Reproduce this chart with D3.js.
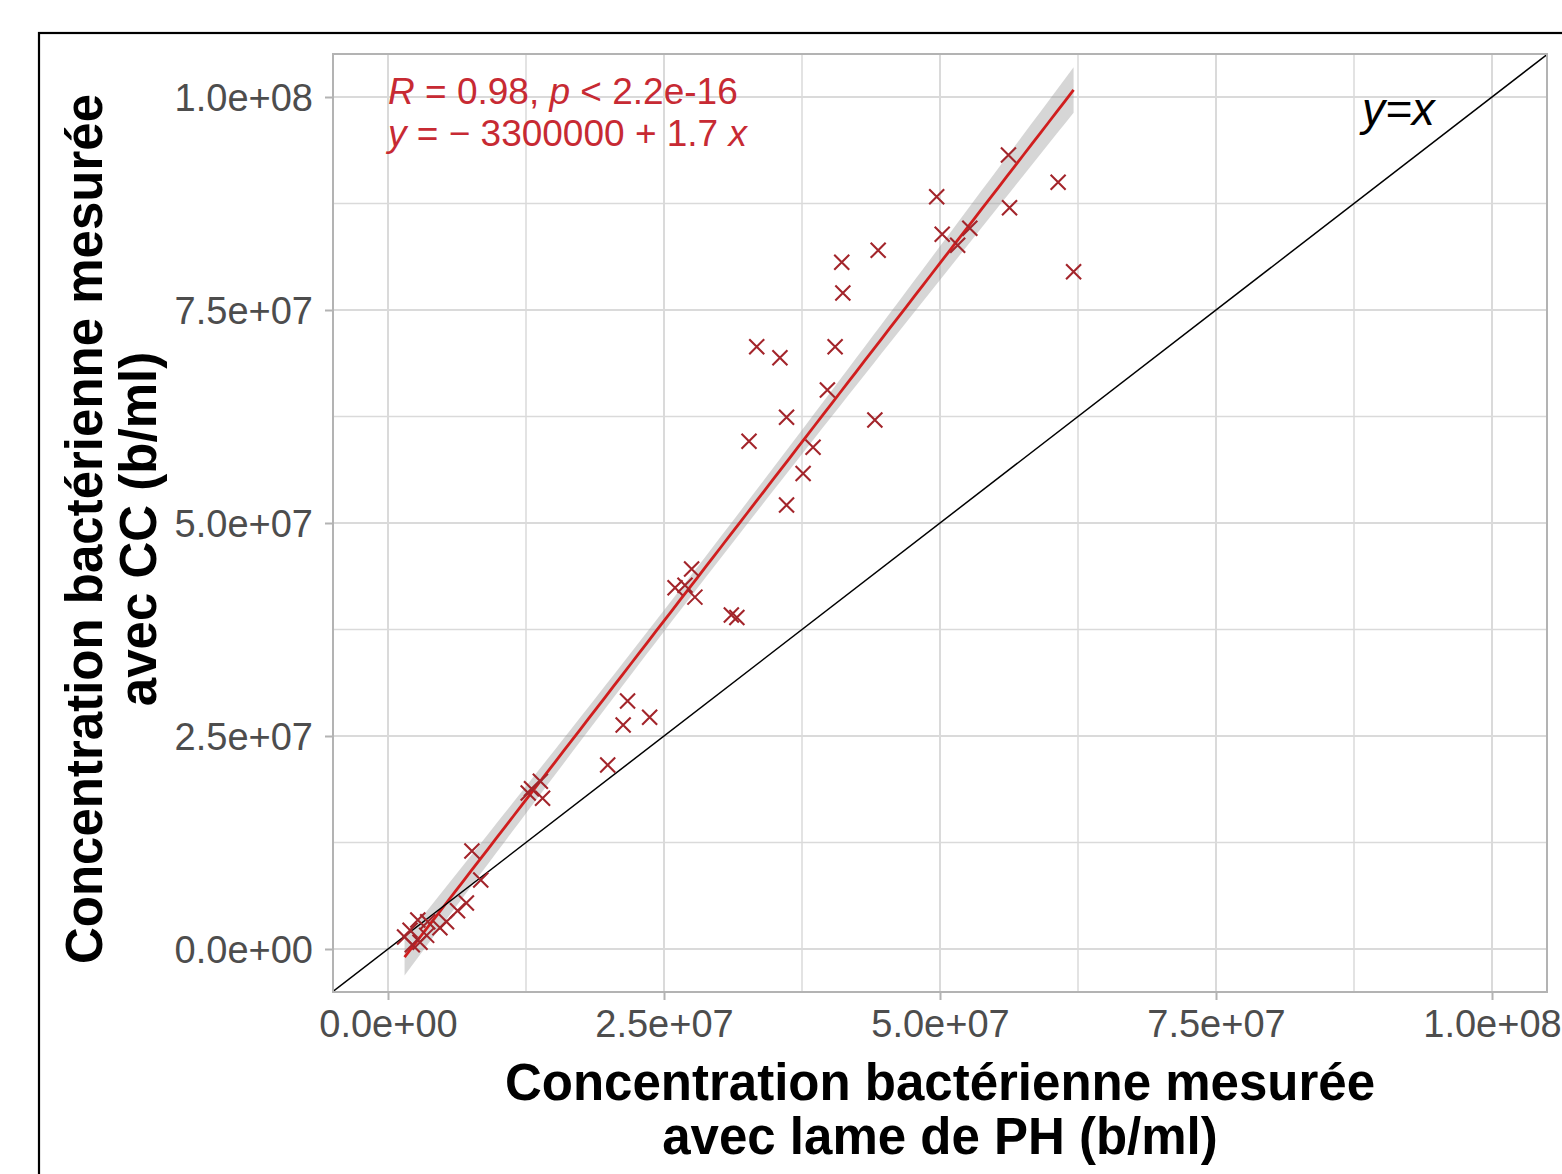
<!DOCTYPE html>
<html>
<head>
<meta charset="utf-8">
<script src="https://cdn.jsdelivr.net/npm/d3@7/dist/d3.min.js"></script>
<style>
  html, body { margin: 0; padding: 0; background: #ffffff; }
  svg { display: block; font-family: "Liberation Sans", Arial, sans-serif; }
</style>
</head>
<body>
<svg id="chart" width="1562" height="1174"></svg>
<script>
// ---- data (values in bacteria / ml, given in millions) ----
const phMillions = [56.2, 60.7, 49.7, 56.3, 50.2, 52.7, 51.6, 44.4, 41.1, 41.2, 62.1,
  33.4, 35.5, 40.5, 39.8, 36.1, 44.1, 32.7, 38.5, 37.6, 36.1,
  27.5, 26.0, 26.9, 27.8, 31.1, 31.6,
  21.7, 21.3, 23.7, 19.9,
  13.0, 13.8, 14.0, 12.7,
  7.6, 8.4, 7.1, 6.3, 5.3, 4.7, 3.6, 2.7, 2.0, 1.5, 2.2, 2.9, 3.5];
const ccMillions = [93.2, 90.0, 88.3, 87.0, 83.9, 84.6, 82.6, 82.0, 80.6, 77.0, 79.5,
  70.7, 69.4, 70.7, 65.6, 62.4, 62.1, 59.6, 58.9, 55.8, 52.1,
  44.6, 42.4, 42.7, 41.3, 39.2, 38.9,
  29.1, 26.3, 27.2, 21.6,
  18.8, 19.7, 17.7, 18.3,
  11.5, 8.1, 5.4, 4.5, 3.2, 2.5, 3.2, 3.4, 2.2, 1.4, 0.5, 0.8, 1.6];
const tickValues = [0, 2.5e7, 5e7, 7.5e7, 1e8];
const tickLabels = ["0.0e+00", "2.5e+07", "5.0e+07", "7.5e+07", "1.0e+08"];
const minorTicks = [1.25e7, 3.75e7, 6.25e7, 8.75e7];
const statLine1 = [["R", true], [" = 0.98, ", false], ["p", true], [" < 2.2e-16", false]];
const statLine2 = [["y", true], [" = \u2212 3300000 + 1.7 ", false], ["x", true]];
const identityLabel = "y=x";
const xTitle = ["Concentration bactérienne mesurée", "avec lame de PH (b/ml)"];
const yTitle = ["Concentration bactérienne mesurée", "avec CC (b/ml)"];
const bandMultiplier = 1.2; // visual width of the grey confidence ribbon, in standard errors

const points = phMillions.map((v, i) => ({ x: v * 1e6, y: ccMillions[i] * 1e6 }));

// ---- layout ----
const svg = d3.select("#chart");
const panel = { left: 333, right: 1547, top: 54, bottom: 992 };
const x = d3.scaleLinear().domain([0, 1e8]).range([388, 1492]);
const y = d3.scaleLinear().domain([0, 1e8]).range([949, 97]);

// outer frame
svg.append("rect").attr("x", 39).attr("y", 33).attr("width", 1600).attr("height", 1200)
  .attr("fill", "none").attr("stroke", "#000").attr("stroke-width", 2.2);

svg.append("defs").append("clipPath").attr("id", "clip")
  .append("rect").attr("x", panel.left).attr("y", panel.top)
  .attr("width", panel.right - panel.left).attr("height", panel.bottom - panel.top);

const grid = svg.append("g");
const gridColor = "#dadada";
minorTicks.forEach(t => {
  grid.append("line").attr("x1", x(t)).attr("x2", x(t)).attr("y1", panel.top).attr("y2", panel.bottom)
    .attr("stroke", gridColor).attr("stroke-width", 1.5);
  grid.append("line").attr("y1", y(t)).attr("y2", y(t)).attr("x1", panel.left).attr("x2", panel.right)
    .attr("stroke", gridColor).attr("stroke-width", 1.5);
});
tickValues.forEach(t => {
  grid.append("line").attr("x1", x(t)).attr("x2", x(t)).attr("y1", panel.top).attr("y2", panel.bottom)
    .attr("stroke", gridColor).attr("stroke-width", 2);
  grid.append("line").attr("y1", y(t)).attr("y2", y(t)).attr("x1", panel.left).attr("x2", panel.right)
    .attr("stroke", gridColor).attr("stroke-width", 2);
});

// ---- linear fit (least squares) with confidence ribbon ----
const n = points.length;
const xbar = d3.mean(points, d => d.x), ybar = d3.mean(points, d => d.y);
const Sxx = d3.sum(points, d => (d.x - xbar) ** 2);
const Sxy = d3.sum(points, d => (d.x - xbar) * (d.y - ybar));
const slope = Sxy / Sxx, intercept = ybar - slope * xbar;
const sse = d3.sum(points, d => (d.y - intercept - slope * d.x) ** 2);
const s = Math.sqrt(sse / (n - 2));
const [xmin, xmax] = d3.extent(points, d => d.x);
const fit = d3.range(0, 81).map(i => {
  const xv = xmin + (xmax - xmin) * i / 80;
  const yv = intercept + slope * xv;
  const se = s * Math.sqrt(1 / n + (xv - xbar) ** 2 / Sxx);
  return { x: xv, y: yv, lo: yv - bandMultiplier * se, hi: yv + bandMultiplier * se };
});

const plot = svg.append("g").attr("clip-path", "url(#clip)");
plot.append("path").datum(fit)
  .attr("d", d3.area().x(d => x(d.x)).y0(d => y(d.lo)).y1(d => y(d.hi)))
  .attr("fill", "#999999").attr("fill-opacity", 0.4);
plot.append("path").datum(fit)
  .attr("d", d3.line().x(d => x(d.x)).y(d => y(d.y)))
  .attr("fill", "none").attr("stroke", "#d01e1e").attr("stroke-width", 2.8);

// identity line y = x
plot.append("path").datum([-1e7, 1.2e8])
  .attr("d", d3.line().x(d => x(d)).y(d => y(d)))
  .attr("stroke", "#000").attr("stroke-width", 1.5).attr("fill", "none");

// points (x shapes)
const r = 7.5;
const pts = svg.append("g").attr("stroke", "#a3252b").attr("stroke-width", 2.1).attr("fill", "none");
pts.selectAll("path").data(points).join("path")
  .attr("d", d => {
    const cx = x(d.x), cy = y(d.y);
    return `M${cx - r},${cy - r}L${cx + r},${cy + r}M${cx - r},${cy + r}L${cx + r},${cy - r}`;
  });

// panel border
svg.append("rect").attr("x", panel.left).attr("y", panel.top)
  .attr("width", panel.right - panel.left).attr("height", panel.bottom - panel.top)
  .attr("fill", "none").attr("stroke", "#b3b3b3").attr("stroke-width", 2);

// axes
const tickColor = "#b3b3b3", labColor = "#4d4d4d";
const xAxis = d3.axisBottom(x).tickValues(tickValues).tickFormat((d, i) => tickLabels[i]).tickSize(8).tickPadding(10);
const gx = svg.append("g").attr("transform", `translate(0,${panel.bottom})`).call(xAxis);
gx.select(".domain").remove();
gx.selectAll(".tick line").attr("stroke", tickColor).attr("stroke-width", 2);
gx.selectAll(".tick text").attr("fill", labColor).attr("font-size", 38)
  .attr("font-family", "Liberation Sans, Arial, sans-serif").attr("dy", "0.72em");

const yAxis = d3.axisLeft(y).tickValues(tickValues).tickFormat((d, i) => tickLabels[i]).tickSize(8).tickPadding(12);
const gy = svg.append("g").attr("transform", `translate(${panel.left},0)`).call(yAxis);
gy.select(".domain").remove();
gy.selectAll(".tick line").attr("stroke", tickColor).attr("stroke-width", 2);
gy.selectAll(".tick text").attr("fill", labColor).attr("font-size", 38)
  .attr("font-family", "Liberation Sans, Arial, sans-serif").attr("dy", "0.36em");

// annotations: two separate lines, spaced so they do not collide
const annColor = "#c72a33";
[[statLine1, 104], [statLine2, 146]].forEach(([parts, by]) => {
  const t = svg.append("text").attr("x", 388).attr("y", by).attr("font-size", 37).attr("fill", annColor)
    .attr("xml:space", "preserve").style("white-space", "pre");
  parts.forEach(([str, it]) => t.append("tspan").text(str).attr("font-style", it ? "italic" : "normal"));
});

svg.append("text").attr("x", 1362).attr("y", 125).attr("font-size", 46).attr("font-style", "italic")
  .attr("fill", "#000").text(identityLabel);

// axis titles
const cxTitle = (panel.left + panel.right) / 2;
xTitle.forEach((line, i) => {
  svg.append("text").attr("x", cxTitle).attr("y", 1100 + i * 54).attr("text-anchor", "middle")
    .attr("font-size", 51).attr("font-weight", "bold").attr("fill", "#000").text(line);
});
const cyTitle = (panel.top + panel.bottom) / 2 + 6;
yTitle.forEach((line, i) => {
  svg.append("text").attr("transform", `translate(${102 + i * 54},${cyTitle}) rotate(-90)`)
    .attr("text-anchor", "middle").attr("font-size", 51).attr("font-weight", "bold")
    .attr("fill", "#000").text(line);
});
</script>
</body>
</html>
